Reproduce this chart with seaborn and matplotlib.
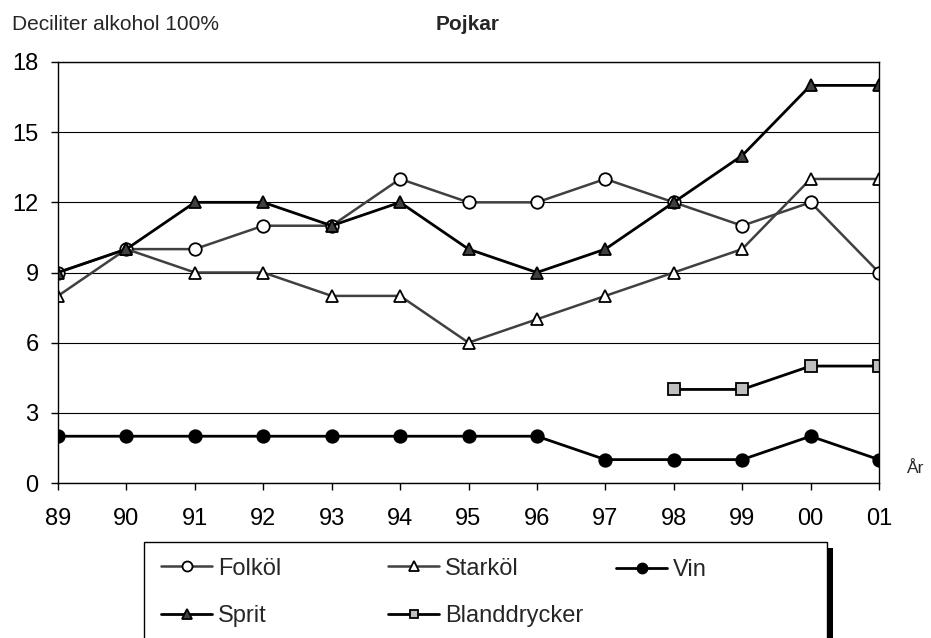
import numpy as np
import pandas as pd
import seaborn as sns
import matplotlib.pyplot as plt
from matplotlib.patches import Rectangle

years = ["89", "90", "91", "92", "93", "94", "95", "96", "97", "98", "99", "00", "01"]
folkol = [9, 10, 10, 11, 11, 13, 12, 12, 13, 12, 11, 12, 9]
starkol = [8, 10, 9, 9, 8, 8, 6, 7, 8, 9, 10, 13, 13]
vin = [2, 2, 2, 2, 2, 2, 2, 2, 1, 1, 1, 2, 1]
sprit = [9, 10, 12, 12, 11, 12, 10, 9, 10, 12, 14, 17, 17]
bland = [np.nan] * 9 + [4, 4, 5, 5]

sns.set_theme(style="white")
plt.rcParams['font.family'] = ['Liberation Sans', 'DejaVu Sans']

W, H = 931, 638
fig = plt.figure(figsize=(W / 100, H / 100), dpi=100)
ax = fig.add_axes([58 / W, 1 - 483 / H, (879 - 58) / W, (483 - 62) / H])

pos = np.arange(len(years))
series = [
    ("Folköl", folkol, dict(color="#404040", marker="o", markerfacecolor="white",
                            markeredgecolor="black", markersize=9, linewidth=1.8)),
    ("Starköl", starkol, dict(color="#404040", marker="^", markerfacecolor="white",
                              markeredgecolor="black", markersize=9, linewidth=1.8)),
    ("Vin", vin, dict(color="black", marker="o", markerfacecolor="black",
                      markeredgecolor="black", markersize=9, linewidth=2)),
    ("Sprit", sprit, dict(color="black", marker="^", markerfacecolor="#404040",
                          markeredgecolor="black", markersize=9, linewidth=2)),
    ("Blanddrycker", bland, dict(color="black", marker="s", markerfacecolor="#bfbfbf",
                                 markeredgecolor="black", markersize=8, linewidth=2)),
]

handles = {}
for name, vals, style in series:
    df = pd.DataFrame({"x": pos, "y": vals}).dropna()
    sns.lineplot(data=df, x="x", y="y", ax=ax, label=name, markeredgewidth=1.3, **style)
    handles[name] = ax.get_lines()[-1]
ax.get_legend().remove()

ax.set_xlim(0, len(years) - 1)
ax.set_ylim(0, 18)
ax.set_yticks(range(0, 19, 3))
ax.set_xticks(pos)
ax.set_xticklabels(years)
ax.set_xlabel("")
ax.set_ylabel("")
ax.yaxis.grid(True, color="black", linewidth=0.8)
ax.set_axisbelow(True)
for s in ax.spines.values():
    s.set_color("black")
    s.set_linewidth(1)
ax.tick_params(axis="both", which="both", direction="out", length=5, width=1,
               color="black", labelsize=17, labelcolor="black", left=True, bottom=True)
ax.tick_params(axis="x", pad=13)
ax.tick_params(axis="y", pad=9)

fig.text(12 / W, 1 - 30.5 / H, "Deciliter alkohol 100%", fontsize=15, va="baseline", ha="left")
fig.text(468 / W, 1 - 30.5 / H, "Pojkar", fontsize=15, fontweight="bold", va="baseline", ha="center")
fig.text(907 / W, 1 - 473 / H, "År", fontsize=12.5, va="baseline", ha="left")

# legend box with shadow on the right
fig.patches.append(Rectangle((827 / W, 0), 6 / W, (H - 548) / H,
                             transform=fig.transFigure, facecolor="black", edgecolor="none"))
fig.patches.append(Rectangle((144 / W, -0.05), (827 - 144) / W, 0.05 + (H - 542) / H,
                             transform=fig.transFigure, facecolor="white", edgecolor="black",
                             linewidth=1))
columns = [(161, ["Folköl", "Sprit"]), (388, ["Starköl", "Blanddrycker"]), (616, ["Vin"])]
for x0, names in columns:
    yc = 570 if len(names) == 1 else 592.5
    leg = fig.legend([handles[n] for n in names], names, frameon=False,
                     loc="center left", bbox_to_anchor=(x0 / W, 1 - yc / H),
                     fontsize=17, handlelength=2.16, handletextpad=0.25,
                     labelspacing=1.1, borderaxespad=0, borderpad=0, markerscale=0.8)

fig.savefig("out.png", dpi=100)
